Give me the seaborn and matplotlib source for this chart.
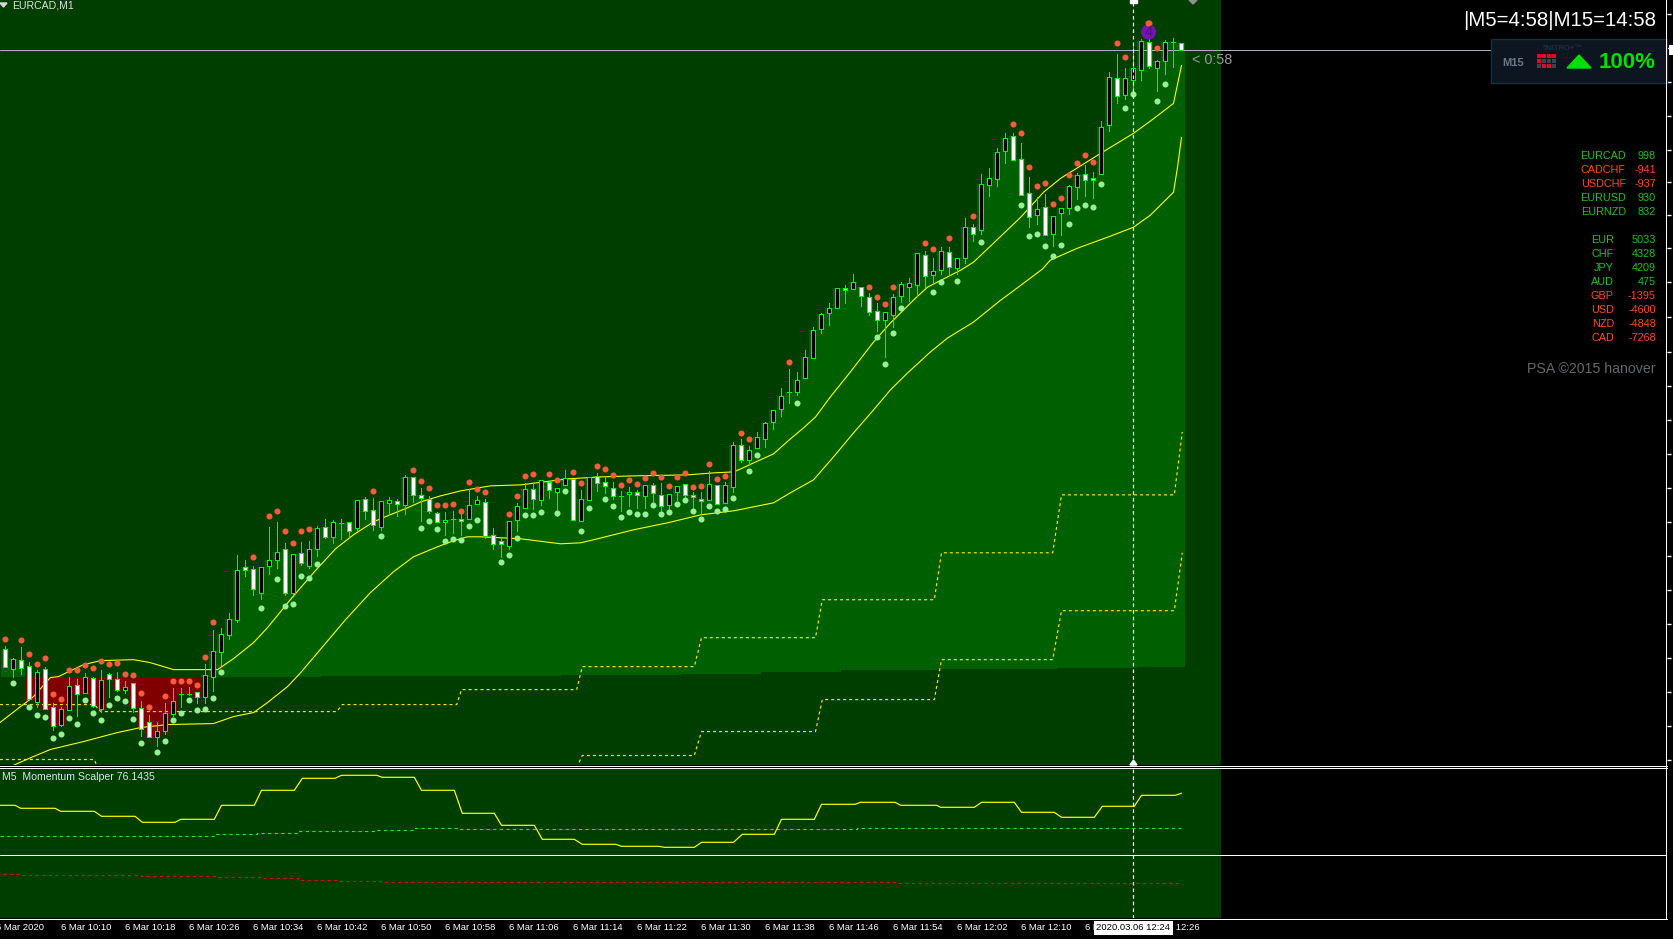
import numpy as np
import seaborn as sns
import matplotlib.pyplot as plt
from matplotlib.patches import Rectangle, Polygon, Circle

# candles, values are chart rows (smaller = higher price), one entry per 1 min bar
kinds = list("wbwwbwwbbw" "bwbwwbwwwb" "bbddwbbbbb" "wwbbbwbwbb" "wbdwbwwbbw" "bwwwwbdwbb" "wwwbbbwbwb" "bwbbwwwdbw" "bwwbbwwwbw" "bbwbbbbbdb" "bbbbbwbwww" "bbbbbwbbwb" "bwbbbbwwwb" "wbbbbwwbbw" "bbbwbbdw")
body_top = [649,659,660,666,672,669,707,709,686,685,677,678,680,674,679,687,683,708,722,731,713,701,694,694,692,675,651,634,619,570,
            567,569,567,560,552,549,554,553,549,528,527,522,523,522,500,499,510,501,500,501,477,477,495,499,513,520,519,519,505,500,
            502,535,541,521,506,489,489,480,482,488,478,479,499,477,476,482,488,496,492,492,485,485,495,494,486,484,495,499,484,485,
            485,445,445,450,437,423,410,396,392,380,357,330,314,308,288,288,282,287,297,311,312,297,284,283,253,255,271,251,252,258,
            227,227,184,178,152,138,136,159,193,209,207,216,208,186,175,174,178,127,77,78,78,68,41,42,61,42,42,43]
body_bot = [667,669,668,699,702,709,726,725,710,694,693,706,709,679,690,690,708,729,737,737,731,714,694,694,697,697,677,652,635,620,
            570,589,593,566,560,593,593,563,566,549,537,537,523,531,528,511,525,527,503,504,505,495,498,511,522,522,519,521,519,504,
            536,544,544,546,520,508,499,500,490,492,485,520,521,500,483,486,496,496,494,495,496,493,506,505,492,495,497,501,500,504,
            503,487,460,460,448,439,422,409,392,392,378,358,329,313,308,290,289,296,312,320,320,315,296,287,285,276,275,270,267,268,
            258,234,230,185,179,151,160,195,217,215,235,234,213,208,187,180,180,174,125,96,95,80,70,66,68,61,42,50]
wick_top = [646,658,647,662,670,667,703,707,677,679,673,677,670,673,672,681,683,701,715,722,703,688,688,687,692,664,630,628,613,555,
            560,566,567,527,522,543,554,542,541,526,519,520,519,522,500,497,498,501,497,499,475,477,488,496,512,512,511,509,489,496,
            499,528,538,521,503,483,482,480,482,488,470,479,490,477,473,476,482,491,487,490,485,483,483,494,486,484,492,492,471,485,
            482,442,439,446,432,422,410,388,369,372,350,327,313,303,288,285,274,287,293,303,312,294,282,278,253,251,258,247,247,258,
            218,224,174,168,148,133,133,143,177,197,194,216,208,185,173,165,172,121,72,54,68,46,39,34,60,40,38,43]
wick_bot = [667,677,674,700,707,709,730,726,710,716,693,707,712,697,691,693,712,736,737,746,734,716,707,695,703,703,691,665,639,622,
            576,595,599,574,568,595,594,565,568,556,538,543,539,537,531,519,530,530,515,516,514,502,521,513,522,535,533,535,519,504,
            538,549,557,549,531,508,509,505,498,516,485,520,521,500,491,493,499,511,506,508,508,506,511,511,500,499,508,514,500,504,
            503,492,462,465,448,447,429,416,403,395,378,358,333,325,308,303,289,306,315,331,357,327,302,301,296,287,283,274,275,274,
            263,241,234,196,186,163,160,195,227,224,235,246,235,214,199,196,198,174,131,103,99,95,80,68,91,74,67,50]

# dots above and below the candles
red_bars = [0,2,3,4,5,6,7,8,9,10,11,12,13,14,15,16,17,18,20,21,22,23,24,25,26,31,33,34,35,36,37,38,46,51,52,53,54,55,56,57,58,59,60,63,64,65,66,68,69,71,72,74,75,76,77,78,79,80,81,82,83,84,85,86,87,88,89,90,92,93,98,108,109,110,111,115,116,118,121,126,127,128,129,130,131,132,133,134,135,136,139,140,143,144]
red_vals = [639,640,654,664,658,694,699,670,670,665,668,661,664,663,674,675,693,707,696,681,681,681,685,657,622,557,516,511,531,543,531,529,491,470,481,488,505,505,504,511,482,489,492,514,496,476,474,474,480,472,483,466,469,475,485,480,484,478,473,477,486,477,473,487,486,464,479,476,433,439,362,287,297,304,287,243,249,238,216,124,133,167,186,183,204,198,175,163,155,162,43,57,23,48]
green_bars = [1,3,4,5,6,7,8,9,10,11,12,13,14,15,16,17,19,20,21,22,23,24,25,26,27,32,34,35,36,37,38,39,47,52,53,54,55,56,57,58,59,62,63,64,65,66,67,69,70,72,73,75,76,77,78,79,80,81,82,83,84,85,86,87,88,89,90,91,93,94,99,109,110,111,112,116,117,119,122,127,128,129,130,131,132,133,134,135,136,137,140,141,144,145]
green_vals = [683,707,715,717,738,734,718,724,700,713,720,705,698,701,719,743,752,741,720,713,700,710,709,698,672,608,579,606,604,576,578,564,536,528,521,529,541,539,540,526,520,562,555,538,515,515,512,513,491,531,508,499,506,517,512,514,514,505,514,512,504,500,511,519,506,511,509,498,471,455,403,337,364,333,308,292,282,281,242,205,236,234,246,256,245,224,208,205,207,184,108,94,101,84]

# moving averages
fast_bars = [-0.7,3.5,5.6,6.6,9.75,11.9,16,18.1,21,26.5,28.5,31,32.75,35.6,38.5,41.25,43.5,46,47.75,50.25,51.9,54.4,56.9,60.6,64.4,70.25,74.4,78.5,85.25,88.5,91,91.9,93.5,96,98.1,99.75,101.25,103.1,105.6,108.5,110.6,113.5,115.25,119.4,121,123.5,126.9,129.75,131.9,136.9,141,143.4,146,147]
fast_vals = [723,697,678,677,665,661,660,663,670,670,659,643,628,600,573,549,535,522,516,508,502,496,491,486,485,479,477,476,475,473,472,469,463,454,439,428,417,397,372,342,323,300,287,270,262,243,217,192,178,153,133,119,103,65]
slow_bars = [0.4,1.5,3.5,5.6,9.75,14,16.9,20.25,26,28.5,31,32.75,35.25,36.9,42.5,45.6,48.5,51,54,56,57.75,59.4,64.4,69.4,71.9,74,78.5,82.75,86.9,91,96,98.1,101,103.5,106,108.5,110.6,112.75,115.6,117.75,121,124.4,125.6,129.6,130.6,134,138.1,141,143.1,146,146.5,147]
slow_vals = [768,764,757,750,742,733,728,725,724,717,713,703,687,673,620,593,572,557,547,541,537,537,539,544,543,539,530,523,515,511,503,493,480,457,433,410,390,373,352,338,322,300,293,269,260,248,236,227,215,192,167,137]

# dashed ladders
ladder_a_bars = [-0.7,11.1,11.9,41.4,42.1,56.4,57,71.4,72.1,86.1,87,101.25,102.1,116.1,117,130.9,132,146.1,147.1]
ladder_a_vals = [705,705,712,712,705,705,690,690,667,667,638,638,600,600,553,553,495,495,432]
ladder_b_bars = [-0.7,11.1,11.5,71.4,72.1,86.1,87,101.25,102.1,116.1,117,130.9,132,146.1,147.1]
ladder_b_vals = [760,760,768,768,756,756,732,732,700,700,660,660,611,611,553]

# lower edge of the cloud and which bars are green / red
cloud_base = [677]*40 + [676]*30 + [675]*15 + [674]*10 + [672]*10 + [670]*12 + [669]*15 + [668]*10 + [667]*6
red_cloud = list(range(3, 25))
green_cloud = list(range(0, 3)) + list(range(25, 148))

# momentum window
mom_bars = [-0.7,1.2,1.9,6.2,6.9,11.1,12,16.2,17.1,21.2,21.9,26.1,27,31.1,32,36.1,37.1,41.2,42,46.4,47.1,51.1,52,56.1,57.1,61.1,62,66.1,67.1,71.1,72.1,76.3,77,81.6,82.4,86.1,87,91,92.1,96.1,97,101.1,102,106.2,106.9,111.2,111.9,116.4,116.9,121.1,122,126.1,127,131.1,132,136.1,137.1,141.1,142,146.2,147]
mom_vals = [49.7,49.7,46.7,46.7,43.7,43.7,38.7,38.7,32.7,32.7,35.7,35.7,49.7,49.7,64.7,64.7,76.7,76.7,79.7,79.7,77.7,77.7,64.7,64.7,41.7,41.7,29.7,29.7,15.7,15.7,10.7,10.7,8.7,8.7,7.7,7.7,12.7,12.7,20.7,20.7,35.7,35.7,50.7,50.7,52.7,52.7,49.7,49.7,47.7,47.7,52.7,52.7,42.7,42.7,37.7,37.7,48.7,48.7,59.7,59.7,61.7]
level_up_bars = [-0.7,11.9,26.1,31.4,36.6,46.5,51.25,56.5,106.5,147]
level_up_vals = [18.7,19.3,20.7,22,23.7,24.7,26.7,25.7,26.7,26.7]
level_dn_bars = [-0.25,1.75,16.9,26.6,31.9,36.6,41.75,47,111.5,147]
level_dn_vals = [-19.3,-20.3,-21.3,-22.3,-23.3,-25.3,-26.3,-27.3,-28.3,-28.3]

tick_bars = [7,15,23,31,39,47,55,63,71,79,87,95,103,111,119,127,135,143]
tick_labels = ["6 Mar 10:10","6 Mar 10:18","6 Mar 10:26","6 Mar 10:34","6 Mar 10:42","6 Mar 10:50","6 Mar 10:58","6 Mar 11:06","6 Mar 11:14","6 Mar 11:22","6 Mar 11:30","6 Mar 11:38","6 Mar 11:46","6 Mar 11:54","6 Mar 12:02","6 Mar 12:10","6 Mar 12:18","6 Mar 12:26"]
price_ticks = [14,48,82,116,150,182,215,248,282,317,352,386,420,454,488,522,556,590,624,658,692,726,760]

pairs = ["EURCAD","CADCHF","USDCHF","EURUSD","EURNZD"]
pair_vals = [998,-941,-937,930,832]
ccys = ["EUR","CHF","JPY","AUD","GBP","USD","NZD","CAD"]
ccy_vals = [5033,4328,4209,475,-1395,-4600,-4848,-7268]

current_bar = 141
price_now = 50

sns.set_theme(style="dark")
plt.rcParams['font.family'] = ['Liberation Sans', 'DejaVu Sans']

BG = "#003E00"
LIGHT = "#006000"
LIME = "#00FF00"
YEL = "#FFFF00"
px = 0.72

fig = plt.figure(figsize=(16.74, 9.39), dpi=100, facecolor="black")
ax = fig.add_axes([0, (939-765)/939, 1667/1674, 765/939], facecolor="black")
ax2 = fig.add_axes([0, (939-918)/939, 1667/1674, (918-768)/939], facecolor="black")
top = fig.add_axes([0, 0, 1, 1], facecolor="none")
top.set_xlim(0, 1674)
top.set_ylim(939, 0)
top.axis("off")

xlim = (-5.5/8, (1667-5.5)/8)
x = np.arange(len(body_top))
body_top = np.array(body_top)
body_bot = np.array(body_bot)
white = np.array([k == "w" for k in kinds])
base = np.array(cloud_base)

for a in (ax, ax2):
    a.axvspan(xlim[0], 152, color=BG, lw=0, zorder=0)

# cloud
ax.bar(np.array(green_cloud)-0.1, body_top[green_cloud]-base[green_cloud], bottom=base[green_cloud], width=1.0, color=LIGHT, lw=0, zorder=1, antialiased=False)
ax.bar(np.array(red_cloud)-0.1, body_bot[red_cloud]-base[red_cloud], bottom=base[red_cloud], width=1.0, color="#800000", lw=0, zorder=1, antialiased=False)

# ladders and averages
sns.lineplot(x=ladder_a_bars, y=ladder_a_vals, ax=ax, estimator=None, sort=False, color="#FFE000", linewidth=px*1.2, linestyle=(0, (2.5, 2.5)), zorder=2)
sns.lineplot(x=ladder_b_bars, y=ladder_b_vals, ax=ax, estimator=None, sort=False, color="#FFE000", linewidth=px*1.2, linestyle=(0, (2.5, 2.5)), zorder=2)
sns.lineplot(x=fast_bars, y=fast_vals, ax=ax, estimator=None, sort=False, color=YEL, linewidth=px*1.1, zorder=2)
sns.lineplot(x=slow_bars, y=slow_vals, ax=ax, estimator=None, sort=False, color=YEL, linewidth=px*1.1, zorder=2)

ax.axhline(price_now, color="#A8B0B8", lw=px, zorder=2)

# candles
ax.vlines(x, wick_top, wick_bot, color=LIME, lw=px, zorder=3, antialiased=False)
ax.bar(x[~white], body_bot[~white]-body_top[~white], bottom=body_top[~white], width=0.5, color="black", edgecolor=LIME, lw=px, zorder=4, antialiased=False)
ax.bar(x[white], body_bot[white]-body_top[white], bottom=body_top[white], width=0.5, color="white", edgecolor=LIME, lw=px, zorder=4, antialiased=False)

# dots
sns.scatterplot(x=red_bars, y=red_vals, ax=ax, color="#FF5A3C", s=19, linewidth=0, zorder=5, legend=False)
sns.scatterplot(x=green_bars, y=green_vals, ax=ax, color="#96F096", s=19, linewidth=0, zorder=5, legend=False)

ax.axvline(current_bar, color="white", lw=px*1.2, linestyle=(0, (3, 2.5)), zorder=6)
ax.set_xlim(xlim)
ax.set_ylim(765.5, -0.5)
ax.set_xticks([])
ax.yaxis.tick_right()
ax.set_yticks(price_ticks)
ax.set_yticklabels([])
ax.tick_params(axis="y", colors="white", length=3, width=1, direction="out")
ax.grid(False)
ax.set_xlabel("")
ax.set_ylabel("")
for s in ax.spines.values():
    s.set_visible(False)

# momentum window
sns.lineplot(x=level_up_bars, y=level_up_vals, ax=ax2, estimator=None, sort=False, color="#2EE02E", linewidth=px*1.1, linestyle=(0, (3, 3)), drawstyle="steps-post", zorder=2)
sns.lineplot(x=level_dn_bars, y=level_dn_vals, ax=ax2, estimator=None, sort=False, color="#F00000", linewidth=px*1.1, linestyle=(0, (3, 3)), drawstyle="steps-post", zorder=2)
sns.lineplot(x=mom_bars, y=mom_vals, ax=ax2, estimator=None, sort=False, color=YEL, linewidth=px*1.2, zorder=3)
ax2.axhline(0, color="white", lw=px, zorder=2)
ax2.axvline(current_bar, color="white", lw=px*1.2, linestyle=(0, (3, 2.5)), zorder=4)
ax2.set_xlim(xlim)
ax2.set_ylim(-63, 87)
ax2.set_yticks([])
ax2.set_xticks(tick_bars)
ax2.set_xticklabels(tick_labels, ha="left", color="white", fontsize=6.8)
ax2.tick_params(axis="x", colors="white", length=3, width=1, pad=0.5)
ax2.grid(False)
ax2.set_xlabel("")
ax2.set_ylabel("")
for s in ax2.spines.values():
    s.set_visible(False)

# frame lines
top.hlines([765.5, 767.5, 918.5], 0, 1667, color="white", lw=px, antialiased=False)
top.vlines(1666.5, 0, 918, color="white", lw=px, antialiased=False)

# texts
top.add_patch(Polygon([(0, 3), (7, 3), (3.5, 7)], color="#D8D8D8"))
top.text(12, 5.5, "EURCAD,M1", color="#E0E0E0", fontsize=7.6, va="center", ha="left")
top.text(1656, 20, "|M5=4:58|M15=14:58", color="white", fontsize=14.7, va="center", ha="right")
top.text(1192, 60, "< 0:58", color="#9A9A9A", fontsize=10.4, va="center", ha="left")
top.text(2, 777, "M5  Momentum Scalper 76.1435", color="#D8E8E8", fontsize=7.6, va="center", ha="left")
top.text(44, 928, "6 Mar 2020", color="white", fontsize=6.8, va="center", ha="right")

# time tag on the crosshair
top.add_patch(Rectangle((1094, 921), 79, 14, color="white", lw=0))
top.text(1133.5, 928, "2020.03.06 12:24", color="black", fontsize=6.8, va="center", ha="center")
top.add_patch(Polygon([(1130, 0), (1137, 0), (1137, 3), (1130, 3)], color="white"))
top.add_patch(Polygon([(1130, 765), (1133.5, 760), (1137, 765)], color="white"))
top.add_patch(Polygon([(1189, 0), (1197, 0), (1193, 4)], color="#909090"))
top.add_patch(Rectangle((1669, 45), 5, 10, color="white", lw=0))

# signal mark
top.add_patch(Circle((1148.5, 32), 7.5, color="#7A10B8", lw=0, zorder=5))
top.text(1148.5, 32, "4", color="#3A2060", fontsize=10.5, va="center", ha="center", zorder=6)
sns.scatterplot(x=[1148.5], y=[23], ax=top, color="#FF5A3C", s=19, linewidth=0, zorder=7, legend=False)
top.set_xlabel("")
top.set_ylabel("")
top.set_xlim(0, 1674)
top.set_ylim(939, 0)

# strength panel
top.add_patch(Rectangle((1491, 39), 176, 44, facecolor="#0D1620", edgecolor="#12303F", lw=1))
top.text(1513, 63, "M15", color="#6A7888", fontsize=8, fontweight="bold", va="center", ha="center")
top.text(1563, 49, "5NITRO+™", color="#1E2E40", fontsize=5.5, fontweight="bold", va="center", ha="center")
grid_on = [[1, 1, 1, 1], [1, 0, 0, 0], [0, 1, 1, 0]]
for r, row in enumerate(grid_on):
    for c, on in enumerate(row):
        top.add_patch(Rectangle((1537+5*c, 54+5*r), 4, 4, color="#F00020" if on else "#3A4450", lw=0))
top.add_patch(Polygon([(1567, 68), (1579, 55), (1591, 68)], color="#00E000"))
top.text(1656, 63, "100%", color="#00E000", fontsize=16, fontweight="bold", va="center", ha="right")

# currency table
GRN = "#22C022"
RED = "#FF4A20"
for r, (name, val) in enumerate(zip(pairs, pair_vals)):
    col = GRN if val > 0 else RED
    top.text(1626, 156+14*r, name, color=col, fontsize=7.8, va="center", ha="right")
    top.text(1656, 156+14*r, str(val), color=col, fontsize=7.8, va="center", ha="right")
for r, (name, val) in enumerate(zip(ccys, ccy_vals)):
    col = GRN if val > 0 else RED
    top.text(1614, 240+14*r, name, color=col, fontsize=7.8, va="center", ha="right")
    top.text(1656, 240+14*r, str(val), color=col, fontsize=7.8, va="center", ha="right")
top.text(1656, 369, "PSA ©2015 hanover", color="#606870", fontsize=10.2, va="center", ha="right")

plt.savefig("out.png", dpi=100, facecolor="black")
